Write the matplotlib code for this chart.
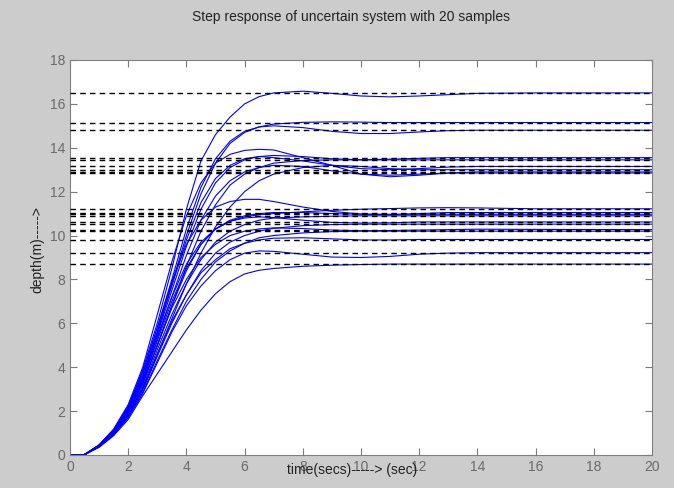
import numpy as np
import matplotlib
matplotlib.use('Agg')
import matplotlib.pyplot as plt

plt.rcParams['font.family'] = ['Liberation Sans', 'DejaVu Sans']

# sample times (s)
time_s = [0, 0.5, 1, 1.5, 2, 2.5, 3, 3.5, 4, 4.5, 5, 5.5, 6, 6.5, 7,
          8, 9, 10, 11, 12, 13, 14, 16, 20]

# steady-state depth of each sample (m)
final_depth = [16.5, 15.15, 14.8, 13.55, 13.45, 13.15, 13.0, 12.9, 12.85,
               11.22, 11.05, 10.97, 10.9, 10.62, 10.52, 10.27, 10.2,
               9.82, 9.22, 8.7]

# step responses, one row per sample
responses = [
    [0, 0.02, 0.45, 1.15, 2.2, 3.9, 6.0, 8.5, 11.2, 13.4, 14.6, 15.4, 16.0, 16.33, 16.5, 16.58, 16.48, 16.36, 16.32, 16.36, 16.42, 16.48, 16.5, 16.5],
    [0, 0.02, 0.44, 1.1, 2.1, 3.6, 5.6, 7.8, 10.0, 11.9, 13.3, 14.2, 14.7, 14.95, 15.08, 15.16, 15.18, 15.17, 15.15, 15.15, 15.15, 15.15, 15.15, 15.15],
    [0, 0.02, 0.45, 1.12, 2.15, 3.7, 5.8, 8.0, 10.3, 12.2, 13.5, 14.3, 14.75, 14.95, 15.0, 14.92, 14.75, 14.65, 14.65, 14.72, 14.78, 14.8, 14.8, 14.8],
    [0, 0.02, 0.43, 1.08, 2.05, 3.5, 5.5, 7.5, 9.5, 11.2, 12.4, 13.1, 13.45, 13.6, 13.65, 13.6, 13.5, 13.45, 13.48, 13.52, 13.55, 13.55, 13.55, 13.55],
    [0, 0.02, 0.4, 1.0, 1.9, 3.2, 5.0, 6.8, 8.6, 10.2, 11.4, 12.3, 12.8, 13.1, 13.3, 13.42, 13.45, 13.45, 13.45, 13.45, 13.45, 13.45, 13.45, 13.45],
    [0, 0.02, 0.44, 1.1, 2.1, 3.6, 5.6, 7.7, 9.8, 11.5, 12.6, 13.2, 13.5, 13.6, 13.55, 13.4, 13.2, 13.05, 13.0, 13.05, 13.12, 13.15, 13.15, 13.15],
    [0, 0.02, 0.38, 0.95, 1.8, 3.0, 4.6, 6.2, 7.8, 9.2, 10.4, 11.3, 12.0, 12.5, 12.8, 13.1, 13.2, 13.15, 13.05, 13.0, 13.0, 13.0, 13.0, 13.0],
    [0, 0.02, 0.46, 1.18, 2.3, 4.0, 6.4, 8.8, 10.9, 12.4, 13.3, 13.7, 13.88, 13.93, 13.9, 13.55, 13.2, 12.8, 12.68, 12.75, 12.85, 12.9, 12.9, 12.9],
    [0, 0.02, 0.42, 1.05, 2.0, 3.4, 5.3, 7.2, 9.1, 10.7, 11.8, 12.5, 12.9, 13.1, 13.2, 13.15, 12.95, 12.8, 12.75, 12.8, 12.85, 12.85, 12.85, 12.85],
    [0, 0.02, 0.41, 1.02, 1.95, 3.3, 5.0, 6.8, 8.4, 9.6, 10.3, 10.65, 10.85, 10.95, 11.0, 11.08, 11.15, 11.2, 11.23, 11.26, 11.27, 11.26, 11.22, 11.22],
    [0, 0.02, 0.45, 1.15, 2.2, 3.8, 5.8, 7.9, 9.6, 10.7, 11.3, 11.55, 11.65, 11.65, 11.55, 11.3, 11.1, 10.98, 10.95, 11.0, 11.05, 11.05, 11.05, 11.05],
    [0, 0.02, 0.42, 1.05, 2.0, 3.4, 5.2, 7.0, 8.5, 9.6, 10.3, 10.7, 10.9, 11.0, 11.05, 11.05, 11.0, 10.97, 10.97, 10.97, 10.97, 10.97, 10.97, 10.97],
    [0, 0.02, 0.4, 0.98, 1.85, 3.1, 4.8, 6.4, 7.8, 8.9, 9.7, 10.2, 10.5, 10.7, 10.8, 10.85, 10.88, 10.9, 10.9, 10.9, 10.9, 10.9, 10.9, 10.9],
    [0, 0.02, 0.43, 1.08, 2.05, 3.5, 5.4, 7.2, 8.7, 9.7, 10.3, 10.65, 10.8, 10.85, 10.82, 10.7, 10.6, 10.57, 10.58, 10.62, 10.62, 10.62, 10.62, 10.62],
    [0, 0.02, 0.38, 0.95, 1.78, 2.95, 4.5, 6.0, 7.3, 8.4, 9.2, 9.7, 10.0, 10.2, 10.33, 10.45, 10.5, 10.52, 10.52, 10.52, 10.52, 10.52, 10.52, 10.52],
    [0, 0.02, 0.41, 1.02, 1.95, 3.3, 5.0, 6.7, 8.0, 9.0, 9.6, 10.0, 10.2, 10.3, 10.35, 10.32, 10.25, 10.22, 10.23, 10.25, 10.27, 10.29, 10.28, 10.27],
    [0, 0.02, 0.37, 0.92, 1.72, 2.85, 4.3, 5.7, 7.0, 8.0, 8.8, 9.3, 9.65, 9.9, 10.0, 10.12, 10.18, 10.2, 10.2, 10.2, 10.2, 10.2, 10.2, 10.2],
    [0, 0.02, 0.39, 0.97, 1.82, 3.05, 4.6, 6.1, 7.3, 8.3, 8.9, 9.4, 9.65, 9.8, 9.88, 9.9, 9.85, 9.8, 9.8, 9.82, 9.82, 9.82, 9.82, 9.82],
    [0, 0.02, 0.37, 0.92, 1.7, 2.8, 4.2, 5.6, 6.8, 7.7, 8.4, 8.9, 9.2, 9.3, 9.28, 9.15, 9.02, 9.0, 9.05, 9.15, 9.2, 9.22, 9.22, 9.22],
    [0, 0.02, 0.35, 0.88, 1.62, 2.7, 3.7, 4.7, 5.7, 6.6, 7.35, 7.9, 8.25, 8.42, 8.5, 8.6, 8.65, 8.68, 8.7, 8.7, 8.7, 8.7, 8.7, 8.7],
]

x_ticks = list(range(0, 21, 2))
y_ticks = list(range(0, 19, 2))

fig = plt.figure(figsize=(6.74, 4.88), dpi=100, facecolor='#cccccc')
ax = fig.add_axes([70 / 674, 1 - 455 / 488, 582 / 674, 395 / 488])
ax.set_facecolor('white')

for row in responses:
    ax.plot(time_s, row, color='#0000ff', lw=0.8)

# steady-state lines on top
ax.hlines(final_depth, 0, 20, colors='black', linestyles=(0, (4, 3)), lw=1.0, zorder=3)

ax.set_xlim(0, 20)
ax.set_ylim(0, 18)
ax.set_xticks(x_ticks)
ax.set_yticks(y_ticks)
ax.tick_params(direction='in', length=5, top=True, right=True,
               colors='#7a7a7a', labelsize=10, labelcolor='#6a6a6a')
for s in ax.spines.values():
    s.set_color('#808080')
    s.set_linewidth(0.8)

fig.text(351 / 674, 1 - 17 / 488, 'Step response of uncertain system with 20 samples',
         ha='center', va='center', fontsize=10, color='#222222')
fig.text(37 / 674, 1 - 250 / 488, 'depth(m)----->', rotation=90,
         ha='center', va='center', fontsize=10, color='#222222')
fig.text(352 / 674, 1 - 470 / 488, 'time(secs)-----> (sec)',
         ha='center', va='center', fontsize=10, color='#222222')

fig.savefig('out.png', dpi=100, facecolor=fig.get_facecolor())
